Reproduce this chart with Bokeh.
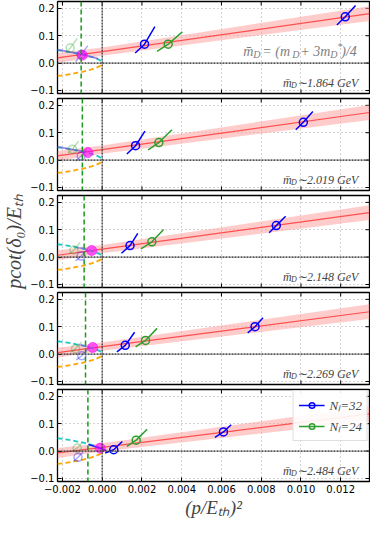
import math
from bokeh.plotting import figure
from bokeh.layouts import column
from bokeh.models import (Range1d, FixedTicker, CustomJSTickFormatter, Span, Label,
                          Legend, LegendItem)
from bokeh.embed import file_html
from bokeh.resources import INLINE

# ---------------- data ----------------
mass = ["1.864", "2.019", "2.148", "2.269", "2.484"]
fit_intercept = [0.042, 0.038, 0.029, 0.027, 0.0137]
fit_slope = [10.3, 10.1, 9.9, 9.5, 9.1]
band_x = [-0.00225, 0.0, 0.01345]
band_half = [0.018, 0.015, 0.027]
lhc_x = [-0.00106, -0.00100, -0.00091, -0.00084, -0.00072]
pole_x = [-0.00100, -0.00072, -0.00053, -0.00048, -0.00010]
pole_y = [0.029, 0.0275, 0.024, 0.024, 0.011]

nl32_x = [[0.00213, 0.01223], [0.00168, 0.01012], [0.00140, 0.00876], [0.00116, 0.00769], [0.00058, 0.00610]]
nl32_y = [[0.069, 0.169], [0.0525, 0.138], [0.042, 0.115], [0.032, 0.100], [0.005, 0.070]]
nl32_xlo = [[0.00166, 0.01181], [0.00124, 0.00974], [0.00097, 0.00840], [0.00074, 0.00732], [0.00015, 0.00567]]
nl32_ylo = [[0.037, 0.139], [0.0225, 0.111], [0.014, 0.089], [0.008, 0.0775], [-0.007, 0.050]]
nl32_xhi = [[0.00265, 0.01275], [0.00215, 0.01060], [0.00179, 0.00923], [0.00163, 0.00809], [0.00101, 0.00649]]
nl32_yhi = [[0.133, 0.210], [0.106, 0.1775], [0.087, 0.149], [0.080, 0.133], [0.035, 0.096]]

nl24_x = [0.00332, 0.00285, 0.00250, 0.00218, 0.00171]
nl24_y = [0.069, 0.064, 0.056, 0.050, 0.040]
nl24_xlo = [0.00276, 0.00231, 0.00195, 0.00168, 0.00124]
nl24_ylo = [0.043, 0.037, 0.030, 0.026, 0.017]
nl24_xhi = [0.00403, 0.00351, 0.00309, 0.00276, 0.00226]
nl24_yhi = [0.114, 0.111, 0.101, 0.094, 0.080]

# lowest (p^2<0) levels, shown faded
b24_x = [-0.00161, -0.00150, -0.00142, -0.00134, -0.00126]
b24_y = [0.055, 0.040, 0.026, 0.020, 0.011]
b24_xlo = [-0.00181, -0.00173, -0.00166, -0.00158, -0.00148]
b24_ylo = [0.038, 0.025, 0.012, 0.007, 0.000]
b24_xhi = [-0.00126, -0.00119, -0.00111, -0.00103, -0.00100]
b24_yhi = [0.090, 0.069, 0.054, 0.044, 0.032]

b32_x = [-0.00106, -0.00106, -0.00106, -0.00103, -0.00122]
b32_y = [0.031, 0.015, 0.0036, -0.006, -0.0225]
b32_xlo = [-0.00134, -0.00134, -0.00134, -0.00130, -0.00144]
b32_ylo = [0.005, -0.004, -0.014, -0.021, -0.036]
b32_xhi = [-0.00072, -0.00078, -0.00078, -0.00073, -0.00097]
b32_yhi = [0.064, 0.039, 0.025, 0.018, -0.004]

# parts of the N_L=32 error curves running along the bound-state curve
trail_x = [[-0.00225, -0.0017, -0.0012, -0.0007, -0.0002],
           [-0.00225, -0.0017, -0.0012, -0.0009],
           [-0.0013, -0.0010, -0.0007],
           [-0.0012, -0.0009, -0.0006],
           [-0.0007, -0.0004, -0.0001, 0.0002]]
trail_y = [[0.050, 0.041, 0.035, 0.026, 0.016],
           [0.049, 0.041, 0.035, 0.030],
           [0.036, 0.032, 0.026],
           [0.035, 0.030, 0.024],
           [0.024, 0.018, 0.010, 0.002]]
trail_color = ["#7a4ee0", "#7a4ee0", "#7a4ee0", "#7a4ee0", "#0000ff"]
trail_alpha = [0.75, 0.7, 0.55, 0.55, 0.85]

# +/- sqrt(-(p/E)^2) curves
curve_x = [-0.00225, -0.002, -0.00175, -0.0015, -0.00125, -0.001, -0.00075, -0.0005, -0.0003, -0.00015, -0.00005, 0.0]
curve_up = [0.047, 0.045, 0.042, 0.039, 0.035, 0.032, 0.027, 0.022, 0.017, 0.012, 0.007, 0.0]
curve_dn = [-v for v in curve_up]

x_ticks = [-0.002, 0.0, 0.002, 0.004, 0.006, 0.008, 0.010, 0.012]
y_ticks = [-0.1, 0.0, 0.1, 0.2]

# ---------------- styling ----------------
BLUE = "#0000ff"
GREEN = "#2ca02c"
SERIF = "Liberation Serif"
SANS = "DejaVu Sans"
XMIN, XMAX = -0.00225, 0.01345
YMIN, YMAX = -0.111, 0.225

x_range = Range1d(XMIN, XMAX)
xfmt = CustomJSTickFormatter(code="return (tick < -1e-9 ? '\u2212' : '') + Math.abs(tick).toFixed(3);")
yfmt = CustomJSTickFormatter(code="return (tick < -1e-9 ? '\u2212' : '') + Math.abs(tick).toFixed(1);")

FRAME_H = 92
figs = []
for i in range(5):
    last = i == 4
    top = 1
    bottom = 40 if last else 4
    p = figure(width=370, height=FRAME_H + top + bottom, x_range=x_range,
               y_range=Range1d(YMIN, YMAX), output_backend="svg", toolbar_location=None,
               min_border_left=47, min_border_right=1, min_border_top=top, min_border_bottom=bottom)
    p.outline_line_color = "black"
    p.outline_line_width = 1.3
    p.background_fill_color = "white"

    for ax in (p.xaxis[0], p.yaxis[0]):
        ax.axis_line_color = None
        ax.major_tick_in = 4
        ax.major_tick_out = 0
        ax.minor_tick_in = 0
        ax.minor_tick_out = 0
        ax.major_tick_line_color = "black"
        ax.major_label_text_font = SANS
        ax.major_label_text_font_size = "10px"
        ax.major_label_text_color = "black"
    p.xaxis.ticker = FixedTicker(ticks=x_ticks)
    p.yaxis.ticker = FixedTicker(ticks=y_ticks)
    p.xaxis.formatter = xfmt
    p.yaxis.formatter = yfmt
    p.yaxis.major_label_standoff = 3
    if not last:
        p.xaxis.visible = False
        # inward bottom ticks
        p.scatter(x_ticks, [YMIN] * len(x_ticks), marker="dash", angle=math.pi / 2, size=8,
                  line_color="black", line_width=1)
    else:
        p.xaxis.major_label_standoff = 3
        p.xaxis.axis_label = "(p/E\u209c\u2095)\u00b2"
        p.xaxis.axis_label_text_font = SERIF
        p.xaxis.axis_label_text_font_style = "italic"
        p.xaxis.axis_label_text_font_size = "19px"
        p.xaxis.axis_label_standoff = 1
    if i == 2:
        p.yaxis.axis_label = "pcot(\u03b4\u2080)/E\u209c\u2095"
        p.yaxis.axis_label_text_font = SERIF
        p.yaxis.axis_label_text_font_style = "italic"
        p.yaxis.axis_label_text_font_size = "20px"
        p.yaxis.axis_label_standoff = 2

    # inward ticks on top and right edges
    p.scatter(x_ticks, [YMAX] * len(x_ticks), marker="dash", angle=math.pi / 2, size=8,
              line_color="black", line_width=1)
    p.scatter([XMAX] * len(y_ticks), y_ticks, marker="dash", size=8,
              line_color="black", line_width=1)

    p.xgrid.grid_line_color = "#a8a8a8"
    p.ygrid.grid_line_color = "#a8a8a8"
    p.xgrid.grid_line_dash = "1 3"
    p.ygrid.grid_line_dash = "1 3"
    p.xgrid.grid_line_width = 1
    p.ygrid.grid_line_width = 1
    if not last:
        p.xgrid.ticker = FixedTicker(ticks=x_ticks)

    # zero lines
    p.add_layout(Span(location=0, dimension="width", line_color="#404040",
                      line_dash="2 1", line_width=1.6, line_alpha=0.85))
    p.add_layout(Span(location=0, dimension="height", line_color="#404040",
                      line_dash="2 1", line_width=1.6, line_alpha=0.85))

    # fit band and line
    fy = [fit_intercept[i] + fit_slope[i] * x for x in band_x]
    p.varea(x=band_x, y1=[a - h for a, h in zip(fy, band_half)],
            y2=[a + h for a, h in zip(fy, band_half)], fill_color="#ff9999", fill_alpha=0.5)
    p.line(band_x, fy, line_color="#ff3030", line_width=1.2, line_alpha=0.8)

    # sqrt curves
    p.line(curve_x, curve_dn, line_color="orange", line_dash="5 3", line_width=1.8)
    p.line(curve_x, curve_up, line_color="#20c8c8", line_dash="5 3", line_width=1.8)

    # left-hand cut
    p.add_layout(Span(location=lhc_x[i], dimension="height", line_color="#1a9a1a",
                      line_dash="5 3", line_width=1.5))

    # faded lowest levels
    p.line(trail_x[i], trail_y[i], line_color=trail_color[i], line_alpha=trail_alpha[i], line_width=1.6)
    p.line([b24_xlo[i], b24_x[i], b24_xhi[i]], [b24_ylo[i], b24_y[i], b24_yhi[i]],
           line_color=GREEN, line_alpha=0.35, line_width=1.4)
    p.scatter([b24_x[i]], [b24_y[i]], marker="circle", size=8, fill_color=None,
              line_color=GREEN, line_alpha=0.35, line_width=1.5)
    p.line([b32_xlo[i], b32_x[i], b32_xhi[i]], [b32_ylo[i], b32_y[i], b32_yhi[i]],
           line_color=BLUE, line_alpha=0.35, line_width=1.4)
    p.scatter([b32_x[i]], [b32_y[i]], marker="circle", size=8, fill_color=None,
              line_color=BLUE, line_alpha=0.35, line_width=1.5)

    # pole position
    p.scatter([pole_x[i]], [pole_y[i]], marker="circle", size=10, fill_color="magenta",
              fill_alpha=0.6, line_color="magenta", line_alpha=0.6)

    # N_L = 32
    r32l = p.multi_line([[a, b, c] for a, b, c in zip(nl32_xlo[i], nl32_x[i], nl32_xhi[i])],
                        [[a, b, c] for a, b, c in zip(nl32_ylo[i], nl32_y[i], nl32_yhi[i])],
                        line_color=BLUE, line_width=1.5)
    r32p = p.scatter(nl32_x[i], nl32_y[i], marker="circle", size=8, fill_color=None,
                     line_color=BLUE, line_width=1.5)
    # N_L = 24
    r24l = p.line([nl24_xlo[i], nl24_x[i], nl24_xhi[i]], [nl24_ylo[i], nl24_y[i], nl24_yhi[i]],
                  line_color=GREEN, line_width=1.5)
    r24p = p.scatter([nl24_x[i]], [nl24_y[i]], marker="circle", size=8, fill_color=None,
                     line_color=GREEN, line_width=1.5)

    # mass label
    mx, my = 0.0091, -0.071
    p.add_layout(Label(x=mx, y=my, text="m\u0304", text_font=SERIF, text_font_style="italic",
                       text_font_size="12px", text_baseline="middle"))
    p.add_layout(Label(x=mx, y=my, x_offset=8, y_offset=-3, text="D", text_font=SERIF,
                       text_font_style="italic", text_font_size="8px", text_baseline="middle"))
    p.add_layout(Label(x=mx, y=my, x_offset=14, text="\u223c" + mass[i] + " GeV", text_font=SERIF,
                       text_font_style="italic", text_font_size="12px", text_baseline="middle"))

    if i == 0:
        fx, fyy = 0.0071, 0.043
        pieces = [("m\u0304", 0, 0, 14), ("D", 10, -3, 10), ("= (m", 19, 0, 14), ("D", 49, -3, 10),
                  ("+ 3m", 57, 0, 14), ("D", 87, -3, 10), ("*", 94, 5, 10), (")/4", 98, 0, 14)]
        for t, dx, dy, fs in pieces:
            p.add_layout(Label(x=fx, y=fyy, x_offset=dx, y_offset=dy, text=t, text_font=SERIF,
                               text_font_style="italic", text_font_size=f"{fs}px",
                               text_color="#808080", text_baseline="middle"))

    if last:
        leg = Legend(items=[LegendItem(label="N\u2097=32", renderers=[r32l, r32p]),
                            LegendItem(label="N\u2097=24", renderers=[r24l, r24p])],
                     location="top_right")
        leg.label_text_font = SERIF
        leg.label_text_font_style = "italic"
        leg.label_text_font_size = "13px"
        leg.glyph_width = 26
        leg.glyph_height = 14
        leg.spacing = 3
        leg.padding = 5
        leg.margin = 1
        leg.border_line_color = "#c0c0c0"
        leg.background_fill_alpha = 0.9
        p.add_layout(leg)

    figs.append(p)

layout = column(*figs, spacing=0)
open("out.html", "w").write(file_html(layout, INLINE))
